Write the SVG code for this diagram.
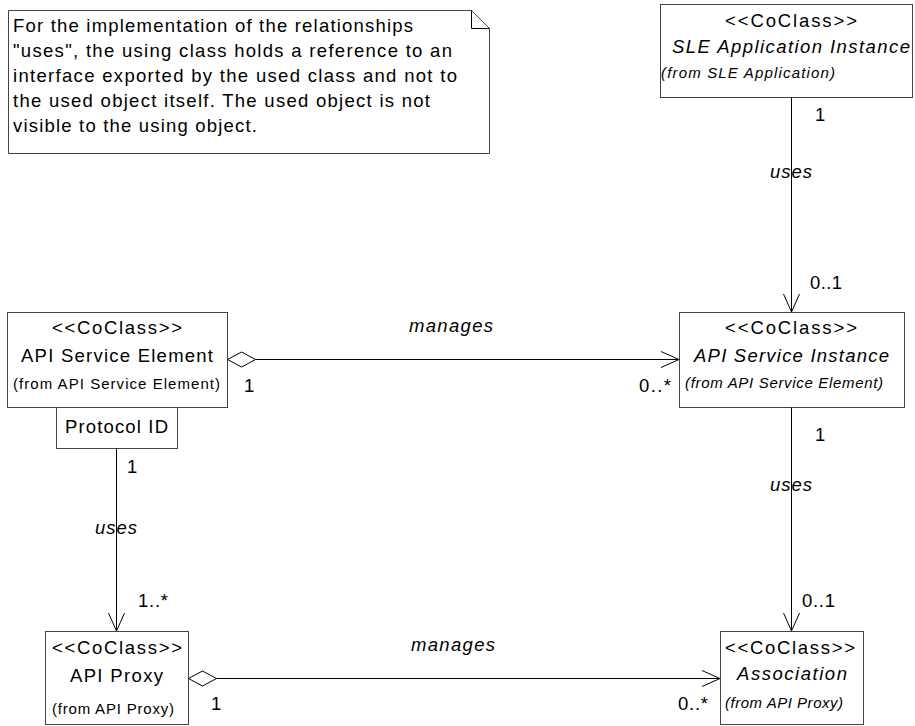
<svg xmlns="http://www.w3.org/2000/svg" width="915" height="726" viewBox="0 0 915 726">
<style>
text{font-family:"Liberation Sans",Arial,sans-serif;font-size:18.5px;fill:#000}
.i{font-style:italic}
.s{font-size:15px}
.box{fill:#fff;stroke:#444;stroke-width:1}
.ln{fill:none;stroke:#000;stroke-width:1}
</style>
<rect width="915" height="726" fill="#fff"/>
<g id="note">
<path class="box" d="M8.5,10.5 H471.5 L489.5,28.5 V153.5 H8.5 Z"/>
<path class="ln" d="M471.5,10.5 V28.5 H489.5" stroke="#444"/>
<text x="13" y="32" textLength="400" lengthAdjust="spacing">For the implementation of the relationships</text>
<text x="13" y="57" textLength="439" lengthAdjust="spacing">"uses", the using class holds a reference to an</text>
<text x="13" y="82" textLength="444" lengthAdjust="spacing">interface exported by the used class and not to</text>
<text x="13" y="107" textLength="417" lengthAdjust="spacing">the used object itself. The used object is not</text>
<text x="13" y="132" textLength="244" lengthAdjust="spacing">visible to the using object.</text>
</g>
<g id="sle-app-instance">
<rect class="box" x="660.5" y="4.5" width="252" height="93"/>
<text x="725" y="27" textLength="132" lengthAdjust="spacing">&lt;&lt;CoClass&gt;&gt;</text>
<text class="i" x="672" y="53" textLength="238" lengthAdjust="spacing">SLE Application Instance</text>
<text class="i s" x="661" y="78" textLength="174" lengthAdjust="spacing">(from SLE Application)</text>
</g>
<g id="api-service-element">
<rect class="box" x="7.5" y="312.5" width="220" height="95"/>
<text x="52" y="334" textLength="130" lengthAdjust="spacing">&lt;&lt;CoClass&gt;&gt;</text>
<text x="21" y="362" textLength="192" lengthAdjust="spacing">API Service Element</text>
<text class="s" x="13" y="389" textLength="207" lengthAdjust="spacing">(from API Service Element)</text>
</g>
<g id="protocol-id">
<rect class="box" x="56.5" y="407.5" width="121" height="41"/>
<text x="65" y="433" textLength="103" lengthAdjust="spacing">Protocol ID</text>
</g>
<g id="api-service-instance">
<rect class="box" x="679.5" y="312.5" width="225" height="95"/>
<text x="725" y="334" textLength="132" lengthAdjust="spacing">&lt;&lt;CoClass&gt;&gt;</text>
<text class="i" x="694" y="362" textLength="195" lengthAdjust="spacing">API Service Instance</text>
<text class="i s" x="685" y="388" textLength="198" lengthAdjust="spacing">(from API Service Element)</text>
</g>
<g id="api-proxy">
<rect class="box" x="45.5" y="631.5" width="143" height="93"/>
<text x="52" y="654" textLength="130" lengthAdjust="spacing">&lt;&lt;CoClass&gt;&gt;</text>
<text x="70" y="682" textLength="93" lengthAdjust="spacing">API Proxy</text>
<text class="s" x="52" y="714" textLength="122" lengthAdjust="spacing">(from API Proxy)</text>
</g>
<g id="association">
<rect class="box" x="720.5" y="631.5" width="143" height="93"/>
<text x="725" y="654" textLength="130" lengthAdjust="spacing">&lt;&lt;CoClass&gt;&gt;</text>
<text class="i" x="737" y="680" textLength="110" lengthAdjust="spacing">Association</text>
<text class="i s" x="725" y="708" textLength="118" lengthAdjust="spacing">(from API Proxy)</text>
</g>
<g id="connectors">
<path class="ln" d="M791.5,97.5 V312 M783.5,294 L791.5,312 L799.5,294"/>
<path class="ln" d="M791.5,407.5 V631 M783.5,613 L791.5,631 L799.5,613"/>
<path class="ln" d="M116.5,448.5 V631 M108.5,613 L116.5,631 L124.5,613"/>
<path class="ln" d="M227.5,359.5 L241.5,352 L255.5,359.5 L241.5,367 Z M255.5,359.5 H679 M661,351.5 L679,359.5 L661,367.5"/>
<path class="ln" d="M188.5,678.5 L202.5,671 L216.5,678.5 L202.5,686 Z M216.5,678.5 H720 M702,670.5 L720,678.5 L702,686.5"/>
<text x="815" y="121">1</text>
<text class="i" x="770" y="178" textLength="42" lengthAdjust="spacing">uses</text>
<text x="810" y="289" textLength="32" lengthAdjust="spacing">0..1</text>
<text class="i" x="409" y="332" textLength="84" lengthAdjust="spacing">manages</text>
<text x="244" y="392">1</text>
<text x="639" y="392" textLength="32" lengthAdjust="spacing">0..*</text>
<text x="815" y="441">1</text>
<text class="i" x="770" y="491" textLength="42" lengthAdjust="spacing">uses</text>
<text x="802" y="607" textLength="33" lengthAdjust="spacing">0..1</text>
<text x="127" y="473">1</text>
<text class="i" x="95" y="534" textLength="42" lengthAdjust="spacing">uses</text>
<text x="138" y="607" textLength="30" lengthAdjust="spacing">1..*</text>
<text class="i" x="411" y="651" textLength="84" lengthAdjust="spacing">manages</text>
<text x="211" y="710">1</text>
<text x="678" y="710" textLength="30" lengthAdjust="spacing">0..*</text>
</g>
</svg>
